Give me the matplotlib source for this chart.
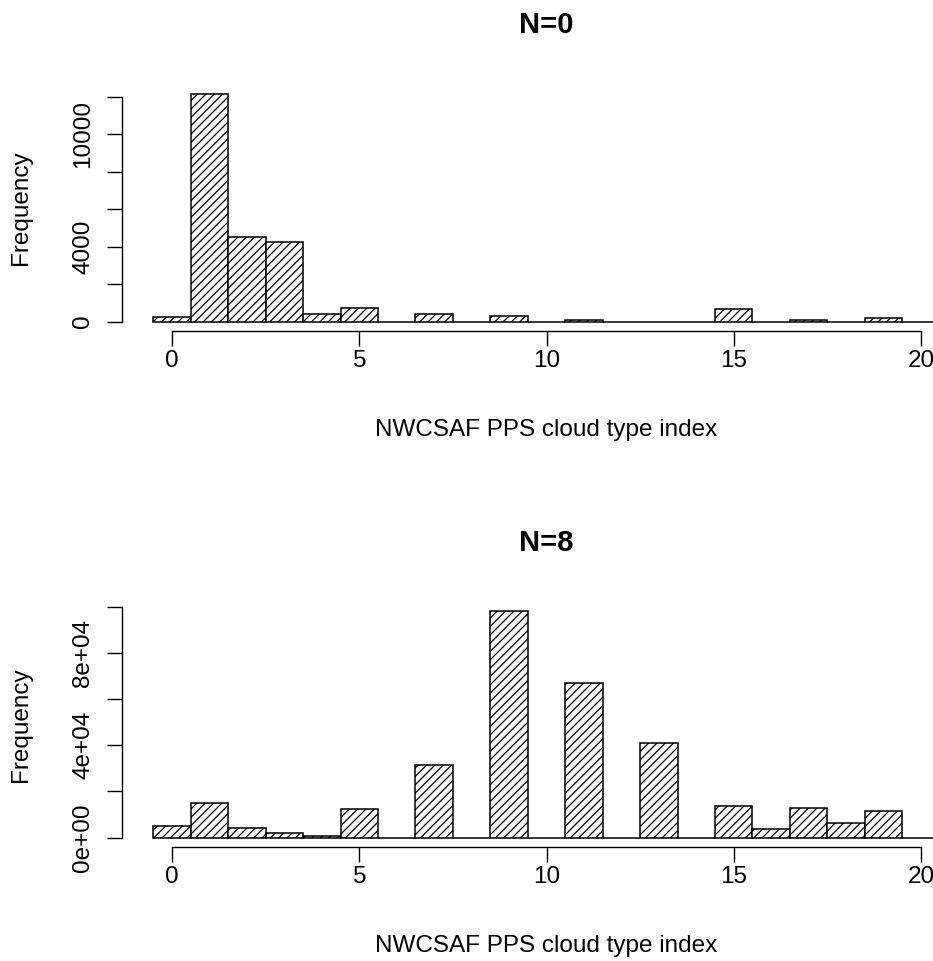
import matplotlib
matplotlib.use("Agg")
import matplotlib.pyplot as plt
import numpy as np

plt.rcParams['font.family'] = ['Liberation Sans', 'DejaVu Sans']
plt.rcParams['hatch.linewidth'] = 0.9

# histogram data: one bin per cloud type index (-0.5..20.5)
type_index = np.arange(0, 21)
counts_n0 = [270, 12150, 4520, 4230, 430, 750, 0, 430, 0, 280, 0,
             70, 0, 0, 0, 650, 0, 70, 0, 180, 0]
counts_n8 = [4900, 15100, 4050, 2000, 600, 12400, 0, 31300, 0, 98000, 0,
             66900, 0, 40900, 0, 13700, 3600, 13000, 6500, 11700, 0]

yticks_n0 = [0, 2000, 4000, 6000, 8000, 10000, 12000]
ylabels_n0 = ['0', '', '4000', '', '', '10000', '']
yticks_n8 = [0, 20000, 40000, 60000, 80000, 100000]
ylabels_n8 = ['0e+00', '', '4e+04', '', '8e+04', '']
xticks = [0, 5, 10, 15, 20]

W, H = 933, 961
fig = plt.figure(figsize=(W / 100, H / 100), dpi=100)
fs = 17.5


def panel(top_px, bottom_px, counts, title, yt, yl):
    left_px, right_px = 122, 971
    ax = fig.add_axes([left_px / W, 1 - bottom_px / H,
                       (right_px - left_px) / W, (bottom_px - top_px) / H])
    ax.bar(type_index, counts, width=1.0, facecolor='white',
           edgecolor='black', hatch='////', linewidth=1.1)
    ymax = max(counts)
    ax.set_ylim(-0.04 * ymax, 1.04 * ymax)
    ax.set_xlim(-0.5 - 0.04 * 21, 20.5 + 0.04 * 21)
    for s in ['top', 'right']:
        ax.spines[s].set_visible(False)
    ax.spines['bottom'].set_bounds(0, 20)
    ax.spines['left'].set_bounds(yt[0], yt[-1])
    for s in ['bottom', 'left']:
        ax.spines[s].set_linewidth(1.0)
    ax.set_xticks(xticks)
    ax.set_xticklabels([str(t) for t in xticks], fontsize=fs)
    ax.set_yticks(yt)
    ax.set_yticklabels(yl, fontsize=fs, rotation=90, va='center')
    ax.tick_params(axis='both', direction='out', length=10.8, width=1.0)
    ax.tick_params(axis='x', pad=3)
    ax.tick_params(axis='y', pad=9)
    xc = (left_px + right_px) / 2 / W
    fig.text(xc, 1 - (top_px - 51.6) / H, title, fontsize=21,
             fontweight='bold', ha='center', va='baseline')
    fig.text(xc, 1 - (bottom_px + 99) / H, 'NWCSAF PPS cloud type index',
             fontsize=fs, ha='center', va='center')
    fig.text(21 / W, 1 - (top_px + bottom_px) / 2 / H, 'Frequency',
             fontsize=fs, rotation=90, ha='center', va='center')
    return ax


panel(84.8, 330.7, counts_n0, 'N=0', yticks_n0, ylabels_n0)
panel(602.3, 846.7, counts_n8, 'N=8', yticks_n8, ylabels_n8)

fig.savefig('out.png', dpi=100)
